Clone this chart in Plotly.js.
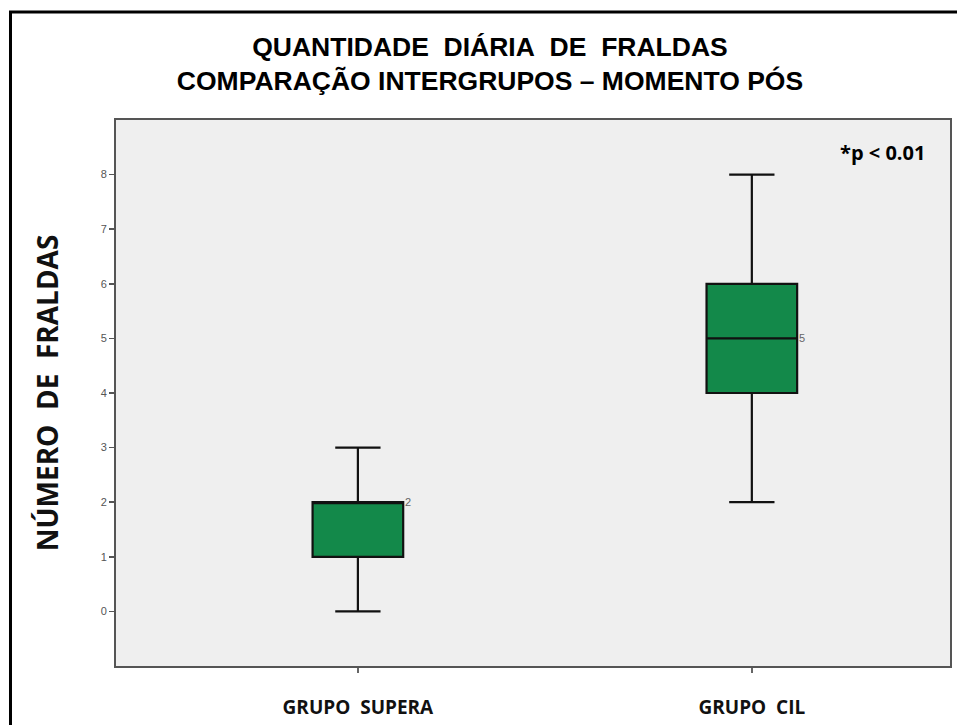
<!DOCTYPE html>
<html>
<head>
<meta charset="utf-8">
<script src="https://cdn.plot.ly/plotly-3.0.1.min.js"></script>
<style>
html,body{margin:0;padding:0;background:#fff;}
#chart{width:957px;height:725px;}
</style>
</head>
<body>
<div id="chart"></div>
<script>
// ---- data ----
const groups = ["GRUPO\u00A0\u00A0SUPERA", "GRUPO\u00A0\u00A0CIL"];
const groupPos = [0, 1];
const lowerFence = [0, 2];
const q1 = [1, 4];
const median = [2, 5];
const q3 = [2, 6];
const upperFence = [3, 8];
const yTicks = [0, 1, 2, 3, 4, 5, 6, 7, 8];
const titleLines = ["QUANTIDADE\u00A0 DIÁRIA\u00A0 DE\u00A0 FRALDAS", "COMPARAÇÃO INTERGRUPOS – MOMENTO PÓS"];
const yTitle = "NÚMERO\u00A0\u00A0DE\u00A0\u00A0FRALDAS";
const pNote = "*p < 0.01";

const trace = {
  type: "box",
  x: groupPos,
  q1: q1,
  median: median,
  q3: q3,
  lowerfence: lowerFence,
  upperfence: upperFence,
  width: 0.23,
  whiskerwidth: 0.5,
  fillcolor: "#13894a",
  line: {color: "#111111", width: 2.2},
  boxpoints: false,
  hoverinfo: "skip",
  showlegend: false
};

const medianLabels = groupPos.map((p, i) => ({
  x: p + 0.115, y: median[i], xref: "x", yref: "y",
  text: String(median[i]), showarrow: false,
  xanchor: "left", yanchor: "middle",
  font: {family: "Liberation Sans, Arial, sans-serif", size: 11, color: "#666"}
}));

const layout = {
  width: 957, height: 725,
  margin: {l: 116, r: 7, t: 120, b: 59},
  paper_bgcolor: "#ffffff",
  plot_bgcolor: "#efefef",
  title: {
    text: titleLines.join("<br>"),
    font: {family: "Liberation Sans, Arial, sans-serif", size: 26.5, color: "#000", weight: "bold"},
    x: 0.512, xanchor: "center",
    y: 1 - 56 / 725, yanchor: "middle", yref: "container"
  },
  xaxis: {
    range: [-0.614, 1.503],
    tickvals: groupPos,
    ticktext: groups,
    ticks: "outside", ticklen: 5, tickwidth: 1.5, tickcolor: "#666",
    tickfont: {family: "Open Sans, sans-serif", size: 19, color: "#111", weight: "bold"},
    ticklabelstandoff: 18,
    showline: true, linecolor: "#555", linewidth: 2, mirror: true,
    showgrid: false, zeroline: false, fixedrange: true
  },
  yaxis: {
    range: [-1, 9],
    tickvals: yTicks,
    ticks: "outside", ticklen: 5, tickwidth: 1.5, tickcolor: "#555",
    tickfont: {family: "Liberation Sans, Arial, sans-serif", size: 11, color: "#555"},
    showline: true, linecolor: "#555", linewidth: 2, mirror: true,
    showgrid: false, zeroline: false, fixedrange: true,
    title: {
      text: yTitle, standoff: 34,
      font: {family: "Open Sans, sans-serif", size: 28, color: "#111", weight: "bold"}
    }
  },
  annotations: medianLabels.concat([{
    x: 0.973, y: 0.94, xref: "paper", yref: "paper",
    text: pNote, showarrow: false, xanchor: "right", yanchor: "middle",
    font: {family: "Open Sans, sans-serif", size: 20, color: "#000", weight: "bold"}
  }]),
  shapes: [{
    type: "rect", xref: "paper", yref: "paper",
    x0: -0.1265, x1: 1.05, y0: -0.2, y1: 1.198,
    line: {color: "#000", width: 3}, fillcolor: "rgba(0,0,0,0)", layer: "below"
  }]
};

Plotly.newPlot("chart", [trace], layout, {displayModeBar: false, staticPlot: true});
</script>
</body>
</html>
